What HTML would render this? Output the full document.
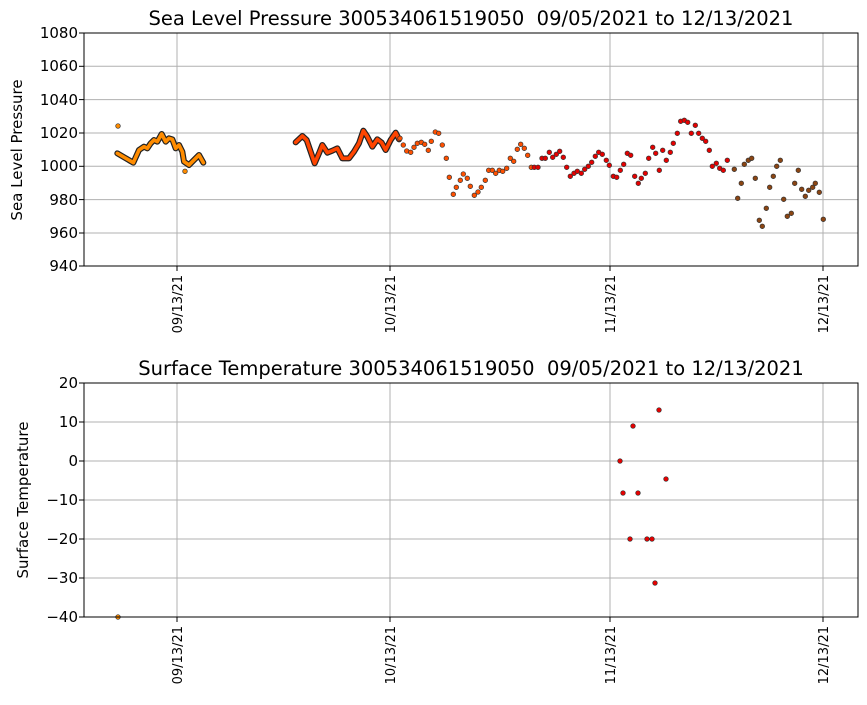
<!DOCTYPE html><html><head><style>body{margin:0;background:#fff}svg{font-family:"DejaVu Sans","Liberation Sans",sans-serif}</style></head><body>
<svg id="s" width="867" height="700" xmlns="http://www.w3.org/2000/svg">
<rect width="867" height="700" fill="#fff"/>
<g stroke="#b0b0b0" stroke-width="1">
<line x1="84" x2="858" y1="66.3" y2="66.3"/><line x1="84" x2="858" y1="99.6" y2="99.6"/><line x1="84" x2="858" y1="133" y2="133"/><line x1="84" x2="858" y1="166.3" y2="166.3"/><line x1="84" x2="858" y1="199.6" y2="199.6"/><line x1="84" x2="858" y1="233" y2="233"/>
<line x1="177" x2="177" y1="33" y2="266"/><line x1="390" x2="390" y1="33" y2="266"/><line x1="610" x2="610" y1="33" y2="266"/><line x1="823" x2="823" y1="33" y2="266"/>
<line x1="84" x2="858" y1="422" y2="422"/><line x1="84" x2="858" y1="461" y2="461"/><line x1="84" x2="858" y1="500" y2="500"/><line x1="84" x2="858" y1="539" y2="539"/><line x1="84" x2="858" y1="578" y2="578"/>
<line x1="177" x2="177" y1="383" y2="617"/><line x1="390" x2="390" y1="383" y2="617"/><line x1="610" x2="610" y1="383" y2="617"/><line x1="823" x2="823" y1="383" y2="617"/>
</g>
<g id="d"></g>
<rect x="84" y="33" width="774" height="233" fill="none" stroke="#000"/>
<rect x="84" y="383" width="774" height="234" fill="none" stroke="#000"/>
<g font-size="15" fill="#000" text-anchor="end">
<text x="78" y="38">1080</text><text x="78" y="71">1060</text><text x="78" y="105">1040</text><text x="78" y="138">1020</text><text x="78" y="171">1000</text><text x="78" y="205">980</text><text x="78" y="238">960</text><text x="78" y="271">940</text>
<text x="78" y="388">20</text><text x="78" y="427">10</text><text x="78" y="466">0</text><text x="78" y="505">−10</text><text x="78" y="544">−20</text><text x="78" y="583">−30</text><text x="78" y="622">−40</text>
</g>
<g stroke="#000"><line x1="79" x2="84" y1="33" y2="33"/><line x1="79" x2="84" y1="66.3" y2="66.3"/><line x1="79" x2="84" y1="99.6" y2="99.6"/><line x1="79" x2="84" y1="133" y2="133"/><line x1="79" x2="84" y1="166.3" y2="166.3"/><line x1="79" x2="84" y1="199.6" y2="199.6"/><line x1="79" x2="84" y1="233" y2="233"/><line x1="79" x2="84" y1="266" y2="266"/>
<line x1="79" x2="84" y1="383" y2="383"/><line x1="79" x2="84" y1="422" y2="422"/><line x1="79" x2="84" y1="461" y2="461"/><line x1="79" x2="84" y1="500" y2="500"/><line x1="79" x2="84" y1="539" y2="539"/><line x1="79" x2="84" y1="578" y2="578"/><line x1="79" x2="84" y1="617" y2="617"/>
<line x1="177" x2="177" y1="266" y2="271"/><line x1="390" x2="390" y1="266" y2="271"/><line x1="610" x2="610" y1="266" y2="271"/><line x1="823" x2="823" y1="266" y2="271"/>
<line x1="177" x2="177" y1="617" y2="622"/><line x1="390" x2="390" y1="617" y2="622"/><line x1="610" x2="610" y1="617" y2="622"/><line x1="823" x2="823" y1="617" y2="622"/></g>
<g font-size="13" fill="#000" text-anchor="end">
<text transform="translate(182,275) rotate(-90)">09/13/21</text><text transform="translate(395,275) rotate(-90)">10/13/21</text><text transform="translate(615,275) rotate(-90)">11/13/21</text><text transform="translate(828,275) rotate(-90)">12/13/21</text>
<text transform="translate(182,626) rotate(-90)">09/13/21</text><text transform="translate(395,626) rotate(-90)">10/13/21</text><text transform="translate(615,626) rotate(-90)">11/13/21</text><text transform="translate(828,626) rotate(-90)">12/13/21</text>
</g>
<g font-size="19.5" text-anchor="middle"><text x="471" y="25">Sea Level Pressure 300534061519050&#160; 09/05/2021 to 12/13/2021</text><text x="471" y="375">Surface Temperature 300534061519050&#160; 09/05/2021 to 12/13/2021</text></g>
<g font-size="15" text-anchor="middle"><text transform="translate(22,150) rotate(-90)">Sea Level Pressure</text><text transform="translate(28,500) rotate(-90)">Surface Temperature</text></g>
</svg>
<script>
var d=document.getElementById('d'),h='';
function c(x,y,f){h+='<circle cx="'+x.toFixed(1)+'" cy="'+y.toFixed(1)+'" r="2.3" fill="'+f+'" stroke="#333" stroke-width="0.7"/>';}
function ln(p,f){var s='M'+p.map(function(q){return (84+q[0]/3)+','+(100+q[1]/3)}).join('L');h+='<path d="'+s+'" fill="none" stroke="#222" stroke-width="6" stroke-linejoin="round" stroke-linecap="round"/><path d="'+s+'" fill="none" stroke="'+f+'" stroke-width="3.6" stroke-linejoin="round" stroke-linecap="round"/>';}
ln([[100,160],[148,188],[165,150],[180,140],[190,145],[200,130],[210,120],[220,125],[233,102],[245,125],[255,115],[265,118],[275,145],[285,135],[295,155],[300,185],[315,195],[330,180],[345,165],[358,188]],'#ff8c00');
c(84+102/3,100+78/3,'#ff8c00');c(84+303/3,100+214/3,'#ff8c00');
ln([[635,127],[655,108],[668,120],[680,155],[692,190],[705,160],[715,135],[730,158],[745,152],[760,145],[775,175],[795,175],[810,155],[825,130],[838,92],[850,110],[865,140],[880,118],[893,128],[905,150],[920,120],[935,98],[945,118]],'#ff4500');
var a=[[0,115],[10,135],[20,153],[32,157],[42,142],[52,130],[64,127],[74,133],[85,151],[94,124],[106,96],[116,100],[127,135],[139,175],[148,232],[160,283],[169,262],[181,241],[190,222],[202,235],[211,259],[223,286],[234,276],[244,262],[256,241],[266,211],[277,211],[287,220],[298,211],[308,214],[320,205],[331,175],[341,184],[352,148],[362,133],[373,145],[383,166],[394,202],[403,202],[414,202],[426,175],[436,175],[448,157],[458,172],[469,163],[479,154],[490,172],[500,202],[511,229],[522,220],[532,214],[544,220],[554,208],[565,199],[575,187],[586,169],[596,157],[607,163],[619,181],[628,196],[640,229],[650,232],[661,211],[671,193],[682,160],[692,166],[704,229],[715,250],[724,235],[736,220],[746,175],[758,142],[767,160],[778,211],[788,151],[799,181],[811,157],[820,130],[832,100],[842,64],[853,61],[863,67],[874,100],[886,76],[896,100],[907,115],[917,124],[928,151],[937,199],[949,190],[959,205],[970,211],[982,181],[1003,208],[1013,295],[1024,250],[1033,193],[1045,181],[1055,175],[1066,235],[1078,361],[1087,379],[1099,325],[1109,262],[1120,229],[1130,199],[1141,181],[1151,298],[1162,349],[1174,340],[1184,250],[1195,211],[1205,268],[1216,289],[1226,271],[1238,262],[1246,250],[1258,277],[1270,358]];
a.forEach(function(q){var f=q[0]<400?'#ff5000':(q[0]<990?'#e60000':'#8b4513');c(400+q[0]/3,100+q[1]/3,f);});
c(118,617,'#ff8c00');
[[620,461],[623,493],[630,539],[633,426],[638,493],[647,539],[652,539],[655,583],[659,410],[666,479]].forEach(function(q){c(q[0],q[1],'#e60000');});
d.innerHTML=h;
</script>
</body></html>
